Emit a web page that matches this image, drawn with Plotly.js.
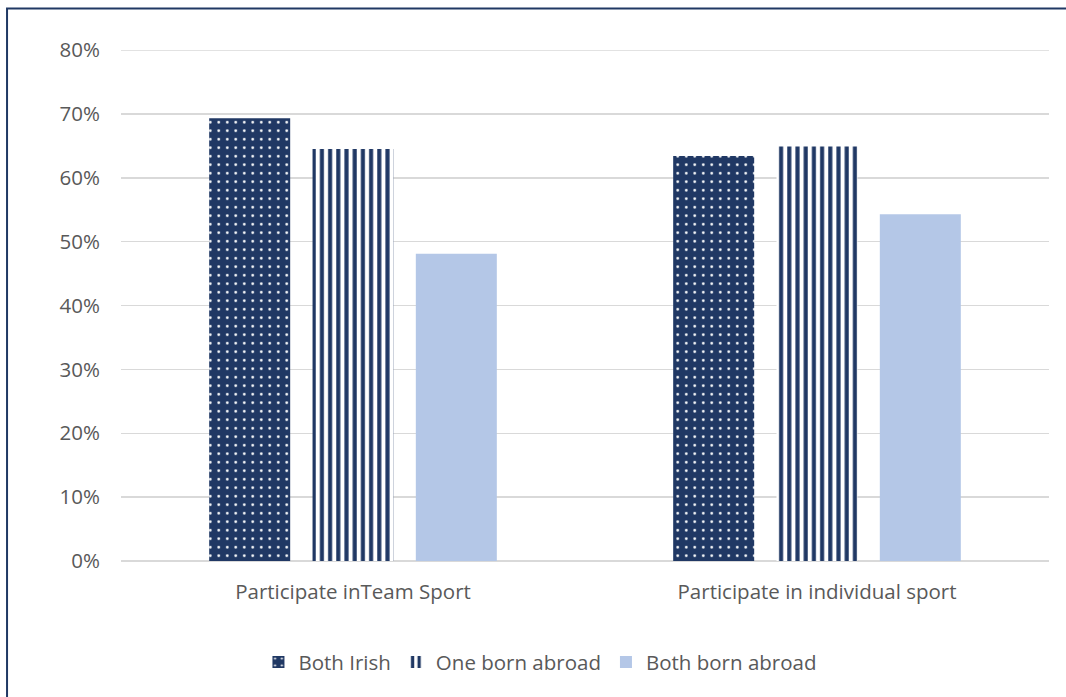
<!DOCTYPE html>
<html>
<head>
<meta charset="utf-8">
<script src="https://cdn.plot.ly/plotly-3.0.1.min.js"></script>
<style>html,body{margin:0;padding:0;background:#fff;}#chart{width:1066px;height:697px;}</style>
</head>
<body>
<div id="chart"></div>
<script>
const categories = ["Participate inTeam Sport", "Participate in individual sport"];
const bothIrish = [0.693, 0.634];
const oneBornAbroad = [0.645, 0.649];
const bothBornAbroad = [0.481, 0.543];
const yTickVals = [0, 0.1, 0.2, 0.3, 0.4, 0.5, 0.6, 0.7, 0.8];
const yTickText = ["0%", "10%", "20%", "30%", "40%", "50%", "60%", "70%", "80%"];

const navy = "#203864";
const light = "#B4C7E7";
const fontFam = "Open Sans, Noto Sans, sans-serif";

const traces = [
  {type: "bar", name: "Both Irish", x: categories, y: bothIrish,
   marker: {color: navy, line: {width: 0},
     pattern: {shape: ".", fgcolor: "#ffffff", bgcolor: navy, size: 8.5, solidity: 0.08, fillmode: "replace"}}},
  {type: "bar", name: "One born abroad", x: categories, y: oneBornAbroad,
   marker: {color: navy, line: {width: 0},
     pattern: {shape: "|", fgcolor: navy, bgcolor: "#ffffff", size: 8.2, solidity: 0.5, fillmode: "replace"}}},
  {type: "bar", name: "Both born abroad", x: categories, y: bothBornAbroad,
   marker: {color: light, line: {width: 0}}}
];

const layout = {
  width: 1066, height: 697,
  margin: {l: 121, r: 17, t: 50, b: 136},
  paper_bgcolor: "#ffffff", plot_bgcolor: "#ffffff",
  font: {family: fontFam, size: 20.5, color: "#595959"},
  barmode: "group", bargap: 0.332, bargroupgap: 0.216,
  showlegend: true,
  legend: {orientation: "h", x: 0.452, xanchor: "center", y: -0.198, yanchor: "middle",
           font: {size: 20.5, color: "#595959"}, itemwidth: 30, traceorder: "normal"},
  xaxis: {showgrid: false, showline: false, ticks: "", zeroline: false,
          ticklabelstandoff: 16, tickfont: {size: 20.5, color: "#595959"}},
  yaxis: {range: [0, 0.8], tickvals: yTickVals, ticktext: yTickText,
          showgrid: true, gridcolor: "#D9D9D9", gridwidth: 1.5, zeroline: true,
          zerolinecolor: "#D9D9D9", zerolinewidth: 1.5, showline: false, ticks: "",
          ticklabelstandoff: 20, tickfont: {size: 20.5, color: "#595959"}},
  shapes: [
    {type: "line", xref: "paper", yref: "y", x0: 0, x1: 1, y0: 0.8, y1: 0.8,
     line: {color: "#D9D9D9", width: 1.5}, layer: "below"},
    {type: "path", xref: "paper", yref: "paper",
     path: "M -0.1228,-0.3 L -0.1228,1.081 L 1.03,1.081",
     line: {color: "#203864", width: 2}}
  ]
};

Plotly.newPlot("chart", traces, layout, {displayModeBar: false, staticPlot: true});
</script>
</body>
</html>
